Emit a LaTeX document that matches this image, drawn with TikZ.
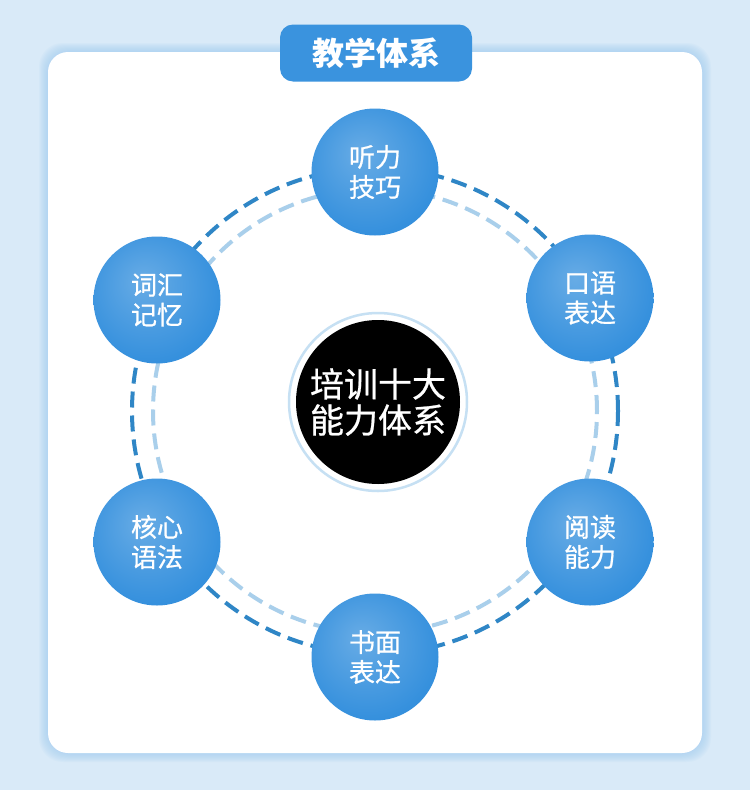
\documentclass[tikz,border=0pt]{standalone}
\usepackage{fontspec}
\newfontfamily\cjk{Noto Sans CJK SC}
\newfontfamily\cjkmed[FakeBold=0.7]{Noto Sans CJK SC}
\definecolor{bgblue}{HTML}{D9EAF8}
\definecolor{glow}{HTML}{9FCCF2}
\definecolor{tabblue}{HTML}{3A93DE}
\definecolor{tileblue}{HTML}{3590DD}
\definecolor{tiledark}{HTML}{2A7CC8}
\definecolor{dashdark}{HTML}{2F86C6}
\definecolor{dashlight}{HTML}{A9CFEB}
\definecolor{hubring}{HTML}{C6E0F3}
\pgfdeclareradialshading{tileshade}{\pgfpoint{-6bp}{8bp}}{color(0bp)=(tileblue!75!white); color(28bp)=(tileblue); color(50bp)=(tiledark)}
\begin{document}
\begin{tikzpicture}[x=1pt,y=-1pt,line join=round,line cap=round,
skill/.style={circle,minimum size=127pt,inner sep=0pt,shading=tileshade,text=white,align=center,font=\cjkmed\fontsize{26}{30}\selectfont},
hub/.style={circle,minimum size=164pt,inner sep=0pt,fill=black,text=white,align=center,font=\cjkmed\fontsize{34}{36}\selectfont},
ringout/.style={dashdark,line width=4pt,line cap=butt,dash pattern=on 16pt off 8pt},
ringin/.style={dashlight,line width=4pt,line cap=butt,dash pattern=on 16pt off 8pt}]
\useasboundingbox (0,0) rectangle (750,790);
\fill[bgblue] (0,0) rectangle (750,790);
\foreach \i in {1,...,9}
\fill[glow,opacity=0.09,rounded corners=24pt] (48-\i,52-\i) rectangle (702+\i,753+\i);
\fill[white,rounded corners=20pt] (48,52) rectangle (702,753);
\path
(375,411) coordinate (ring)
(378,402) coordinate (O)
(375,172) coordinate (L)
(590,298) coordinate (K)
(590,542) coordinate (R)
(375,657) coordinate (W)
(157,542) coordinate (G)
(157,300) coordinate (V)
;
\draw[ringout] (ring) circle (243pt);
\draw[ringin] (ring) circle (222pt);
\draw[hubring,line width=2.5pt] (O) circle (89pt);
\node[hub] (hub) at (O) {培训十大\\能力体系};
\foreach \p/\t in {L/{听力\\技巧}, K/{口语\\表达}, R/{阅读\\能力}, W/{书面\\表达}, G/{核心\\语法}, V/{词汇\\记忆}}
\node[skill] (s\p) at (\p) {\t};
\node[fill=tabblue,rounded corners=13pt,minimum width=192pt,minimum height=57pt,text=white,font=\cjk\bfseries\fontsize{32}{34}\selectfont] (title) at (376,53) {教学体系};
\end{tikzpicture}
\end{document}
